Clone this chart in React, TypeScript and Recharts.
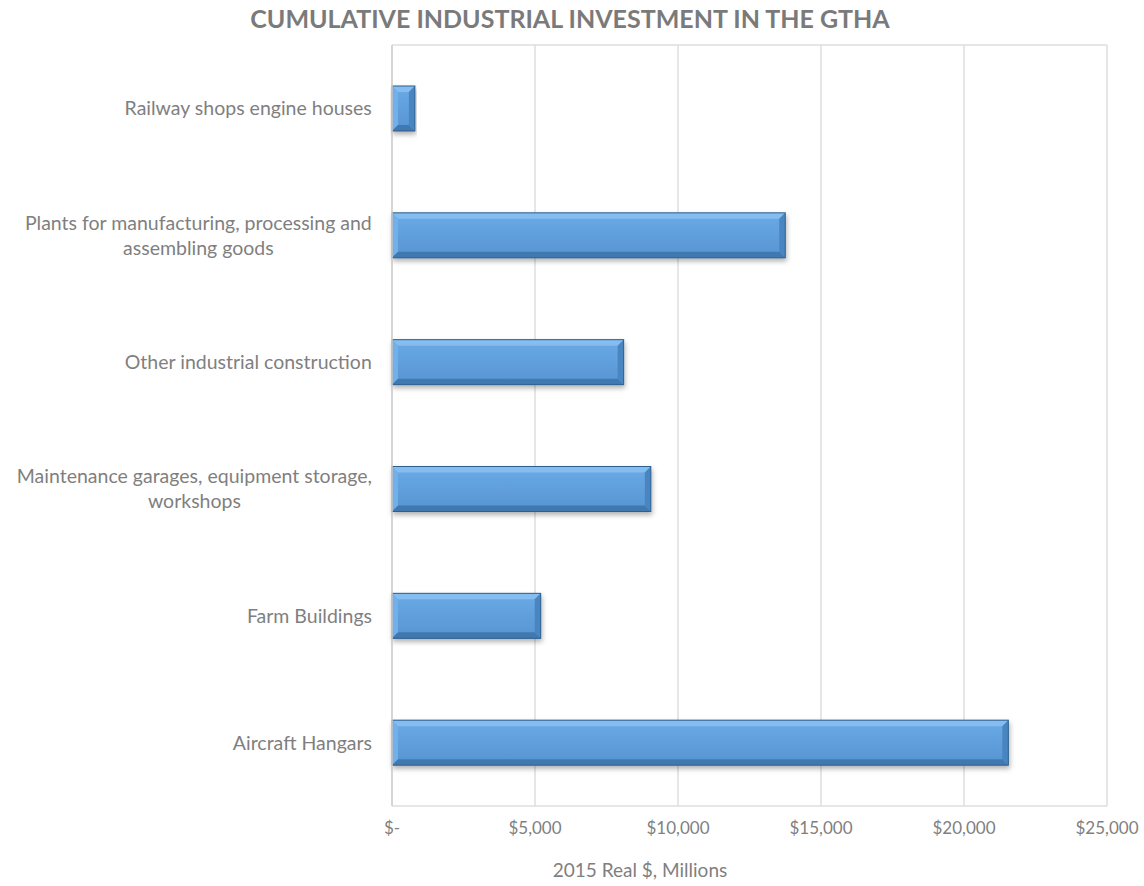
import React from 'react'
import { BarChart, Bar, XAxis, YAxis, CartesianGrid } from 'recharts'

const categories = [
  'Railway shops engine houses',
  'Plants for manufacturing, processing and assembling goods',
  'Other industrial construction',
  'Maintenance garages, equipment storage, workshops',
  'Farm Buildings',
  'Aircraft Hangars',
]
const investment = [800, 13750, 8100, 9050, 5200, 21550]
const xTicks = [0, 5000, 10000, 15000, 20000, 25000]

const chartData = categories.map((name, i) => ({ name, value: investment[i] }))

const FONT = 'Lato, "Open Sans", sans-serif'
const GREY = '#7f7f7f'
const LABEL_SIZE = 19.5

let ctx: CanvasRenderingContext2D | null = null
function textWidth(s: string): number {
  if (!ctx) ctx = document.createElement('canvas').getContext('2d')
  if (!ctx) return s.length * 8
  ctx.font = `${LABEL_SIZE}px ${FONT}`
  return ctx.measureText(s).width
}

function wrap(s: string, maxChars = 40): string[] {
  const lines: string[] = []
  let cur = ''
  for (const w of s.split(' ')) {
    const next = cur ? cur + ' ' + w : w
    if (next.length > maxChars && cur) {
      lines.push(cur)
      cur = w
    } else cur = next
  }
  if (cur) lines.push(cur)
  return lines
}

function CategoryTick(props: any) {
  const { y, payload } = props
  const lines = wrap(payload.value)
  const right = 372
  const block = Math.max(...lines.map(textWidth))
  const cx = right - block / 2
  const lh = 25
  const y0 = y - ((lines.length - 1) * lh) / 2
  return (
    <text textAnchor="middle" fill={GREY} fontSize={LABEL_SIZE} fontFamily={FONT}>
      {lines.map((l, i) => (
        <tspan key={i} x={cx} y={y0 + i * lh} dy="0.36em">
          {l}
        </tspan>
      ))}
    </text>
  )
}

function BevelBar(props: any) {
  const { x, y, width: w, height: h } = props
  if (!w || w <= 0) return null
  const b = Math.min(6, w / 3)
  return (
    <g filter="url(#barShadow)">
      <rect x={x} y={y} width={w} height={h} fill="url(#barFill)" />
      <polygon points={`${x},${y} ${x + w},${y} ${x + w - b},${y + b} ${x + b},${y + b}`} fill="#86bdf0" />
      <polygon points={`${x},${y} ${x + b},${y + b} ${x + b},${y + h - b} ${x},${y + h}`} fill="#72b0ea" />
      <polygon
        points={`${x},${y + h} ${x + w},${y + h} ${x + w - b},${y + h - b} ${x + b},${y + h - b}`}
        fill="#4178b0"
      />
      <polygon
        points={`${x + w},${y} ${x + w},${y + h} ${x + w - b},${y + h - b} ${x + w - b},${y + b}`}
        fill="#4a85c0"
      />
      <rect x={x} y={y} width={w} height={h} fill="none" stroke="#2f5f8e" strokeWidth={1} />
    </g>
  )
}

const money = (v: number) => (v === 0 ? '$-' : '$' + v.toLocaleString('en-US'))

export default function App() {
  return (
    <div style={{ position: 'absolute', left: 0, top: 0, width: 1144, height: 886, background: '#fff' }}>
      <div
        style={{
          position: 'absolute',
          top: 3,
          left: 0,
          width: 1140,
          textAlign: 'center',
          fontFamily: FONT,
          fontWeight: 700,
          fontSize: 25,
          color: '#7a7a7a',
        }}
      >
        CUMULATIVE INDUSTRIAL INVESTMENT IN THE GTHA
      </div>
      <BarChart
        width={1144}
        height={886}
        data={chartData}
        layout="vertical"
        margin={{ top: 45, right: 37, bottom: 0, left: 0 }}
      >
        <defs>
          <linearGradient id="barFill" x1="0" y1="0" x2="0" y2="1">
            <stop offset="0%" stopColor="#6aaae6" />
            <stop offset="100%" stopColor="#5694d2" />
          </linearGradient>
          <filter id="barShadow" x="-5%" y="-20%" width="110%" height="160%">
            <feDropShadow dx="1" dy="3" stdDeviation="2.5" floodColor="#000" floodOpacity="0.3" />
          </filter>
        </defs>
        <CartesianGrid
          stroke="#dedede"
          strokeWidth={1.5}
          horizontalCoordinatesGenerator={({ offset }: any) => [offset.top, offset.top + offset.height]}
        />
        <XAxis
          type="number"
          domain={[0, 25000]}
          ticks={xTicks}
          tickFormatter={money}
          tick={{ fill: GREY, fontSize: 17, fontFamily: FONT, dy: 8 }}
          tickLine={false}
          axisLine={false}
          height={80}
        />
        <YAxis
          type="category"
          dataKey="name"
          width={392}
          tick={<CategoryTick />}
          tickLine={false}
          axisLine={{ stroke: '#cfcfcf', strokeWidth: 1.5 }}
          interval={0}
        />
        <Bar dataKey="value" barSize={45} shape={<BevelBar />} isAnimationActive={false} />
      </BarChart>
      <div
        style={{
          position: 'absolute',
          top: 858,
          left: 440,
          width: 400,
          textAlign: 'center',
          fontFamily: FONT,
          fontSize: 19,
          color: GREY,
        }}
      >
        2015 Real $, Millions
      </div>
    </div>
  )
}
